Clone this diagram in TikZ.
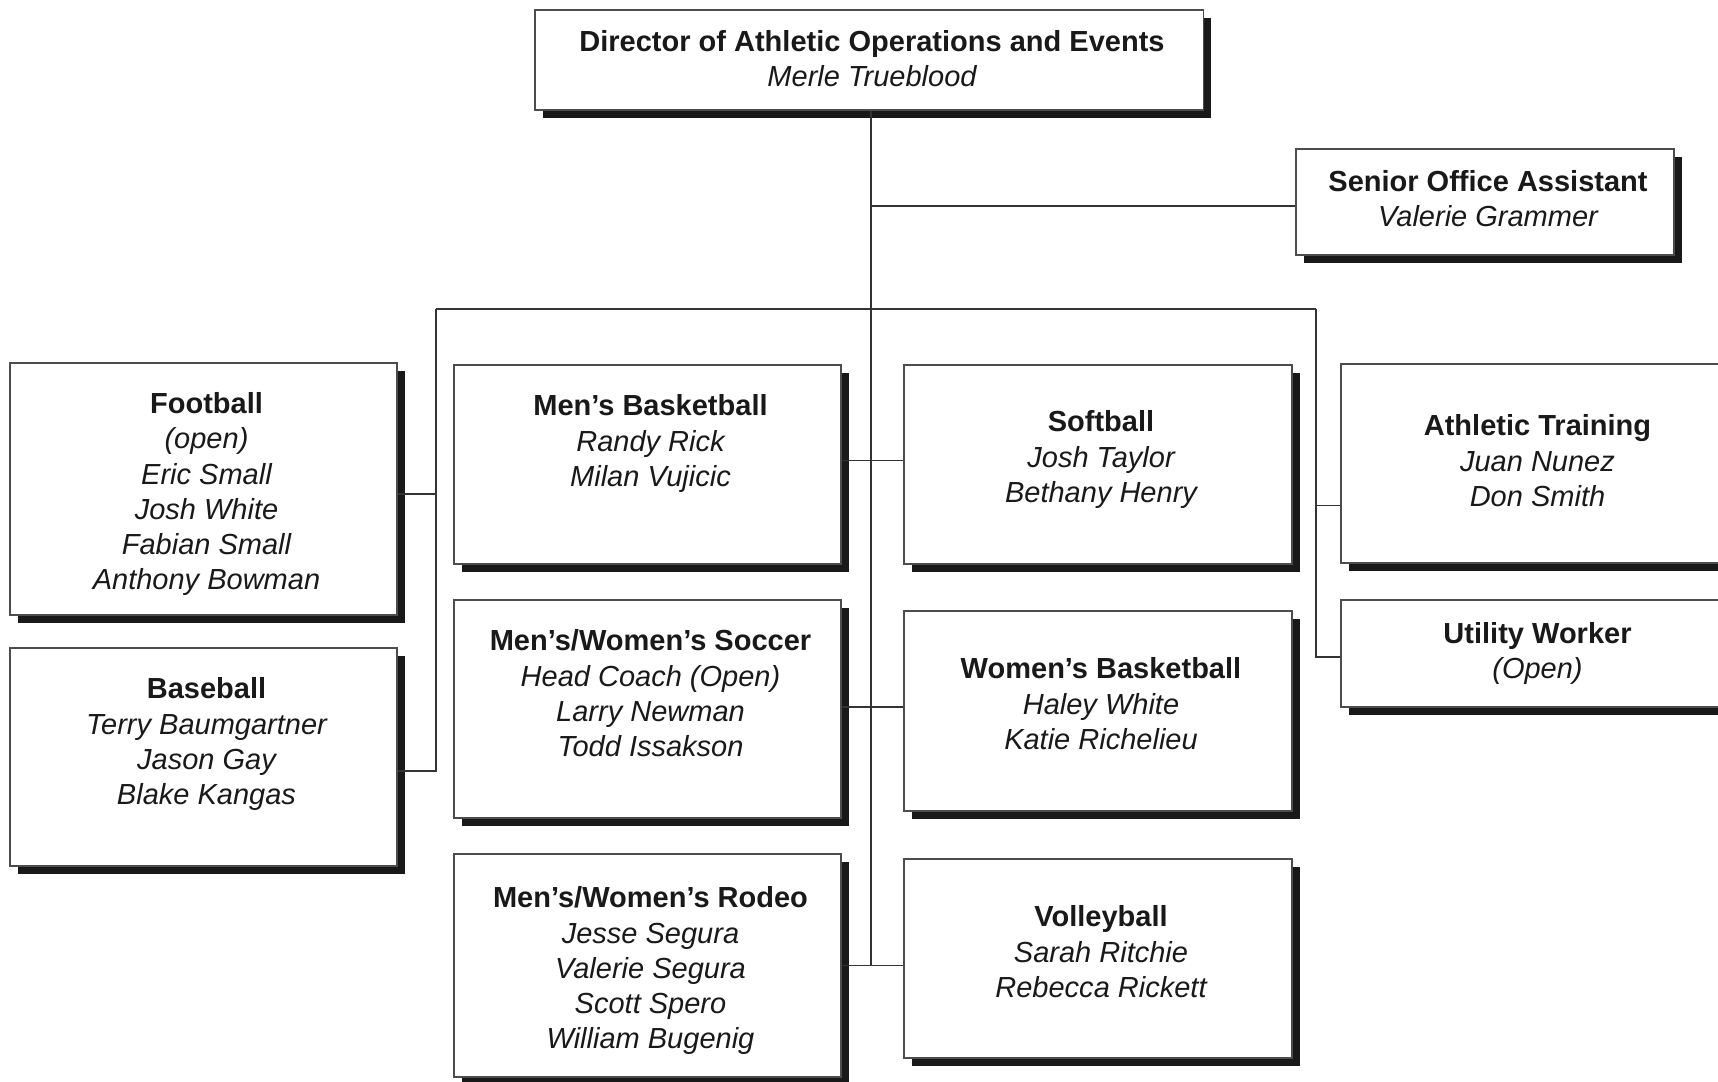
\documentclass[tikz,border=0pt]{standalone}
\usepackage{fontspec}
\setmainfont{Liberation Sans}
\usepackage{tikz}
\usetikzlibrary{positioning,shadows}

\begin{document}
\begin{tikzpicture}[x=0.01cm,y=-0.01cm,
  unit/.style={draw=black!70, line width=0.4pt, fill=white, inner sep=0pt,
    drop shadow={shadow xshift=0.08cm, shadow yshift=-0.08cm, fill=black!90, opacity=1}},
  names/.style={align=center, inner sep=0pt, text=black!90, xshift=0.03cm,
    font=\fontsize{8.25}{9.96}\selectfont\itshape},
  link/.style={draw=black!80, line width=0.35pt}]
\useasboundingbox (0,0) rectangle (1718,1082);

\node[unit, minimum width=6.68cm, minimum height=1.00cm] (dir) at (869,60) {};
\node[names, below=0.20cm of dir.north] {\textbf{\upshape Director of Athletic Operations and Events}\\ Merle Trueblood};

\node[unit, minimum width=3.78cm, minimum height=1.06cm] (soa) at (1485,202) {};
\node[names, below=0.21cm of soa.north] {\textbf{\upshape Senior Office Assistant}\\ Valerie Grammer};

\node[unit, minimum width=3.87cm, minimum height=2.52cm] (fb) at (203.5,489) {};
\node[names, below=0.30cm of fb.north] {\textbf{\upshape Football}\\ (open)\\ Eric Small\\ Josh White\\ Fabian Small\\ Anthony Bowman};

\node[unit, minimum width=3.87cm, minimum height=2.18cm] (bb) at (203.5,757) {};
\node[names, below=0.30cm of bb.north] {\textbf{\upshape Baseball}\\ Terry Baumgartner\\ Jason Gay\\ Blake Kangas};

\node[unit, minimum width=3.87cm, minimum height=1.99cm] (mb) at (647.5,464.5) {};
\node[names, below=0.30cm of mb.north] {\textbf{\upshape Men's Basketball}\\ Randy Rick\\ Milan Vujicic};

\node[unit, minimum width=3.87cm, minimum height=2.18cm] (soc) at (647.5,709) {};
\node[names, below=0.30cm of soc.north] {\textbf{\upshape Men's/Women's Soccer}\\ Head Coach (Open)\\ Larry Newman\\ Todd Issakson};

\node[unit, minimum width=3.87cm, minimum height=2.23cm] (rod) at (647.5,965.5) {};
\node[names, below=0.33cm of rod.north] {\textbf{\upshape Men's/Women's Rodeo}\\ Jesse Segura\\ Valerie Segura\\ Scott Spero\\ William Bugenig};

\node[unit, minimum width=3.88cm, minimum height=1.99cm] (sb) at (1098,464.5) {};
\node[names, below=0.46cm of sb.north] {\textbf{\upshape Softball}\\ Josh Taylor\\ Bethany Henry};

\node[unit, minimum width=3.88cm, minimum height=2.00cm] (wb) at (1098,711) {};
\node[names, below=0.47cm of wb.north] {\textbf{\upshape Women's Basketball}\\ Haley White\\ Katie Richelieu};

\node[unit, minimum width=3.88cm, minimum height=1.99cm] (vb) at (1098,958.5) {};
\node[names, below=0.47cm of vb.north] {\textbf{\upshape Volleyball}\\ Sarah Ritchie\\ Rebecca Rickett};

\node[unit, minimum width=3.87cm, minimum height=1.99cm] (at) at (1534.5,463.5) {};
\node[names, below=0.51cm of at.north] {\textbf{\upshape Athletic Training}\\ Juan Nunez\\ Don Smith};

\node[unit, minimum width=3.87cm, minimum height=1.07cm] (uw) at (1534.5,653.5) {};
\node[names, below=0.22cm of uw.north] {\textbf{\upshape Utility Worker}\\ (Open)};

\coordinate (trunk) at ([xshift=0.02cm]dir.south);
\coordinate (busl) at (436,309);
\coordinate (busr) at (1316,309);

\draw[link] (trunk) -- (trunk |- rod.east);
\draw[link] ([yshift=-0.04cm]soa.west -| trunk) -- ([yshift=-0.04cm]soa.west);
\draw[link] (busl) -- (busr);
\draw[link] ([yshift=-0.05cm]fb.east) -| (busl) |- ([yshift=-0.14cm]bb.east);
\draw[link] ([yshift=-0.42cm]at.west) -| (busr) |- ([yshift=-0.035cm]uw.west);
\draw[link] ([yshift=0.04cm]mb.east) -- ([yshift=0.04cm]mb.east -| sb.west);
\draw[link] ([yshift=0.02cm]soc.east) -- ([yshift=0.02cm]soc.east -| wb.west);
\draw[link] (rod.east) -- (rod.east -| vb.west);
\end{tikzpicture}
\end{document}
